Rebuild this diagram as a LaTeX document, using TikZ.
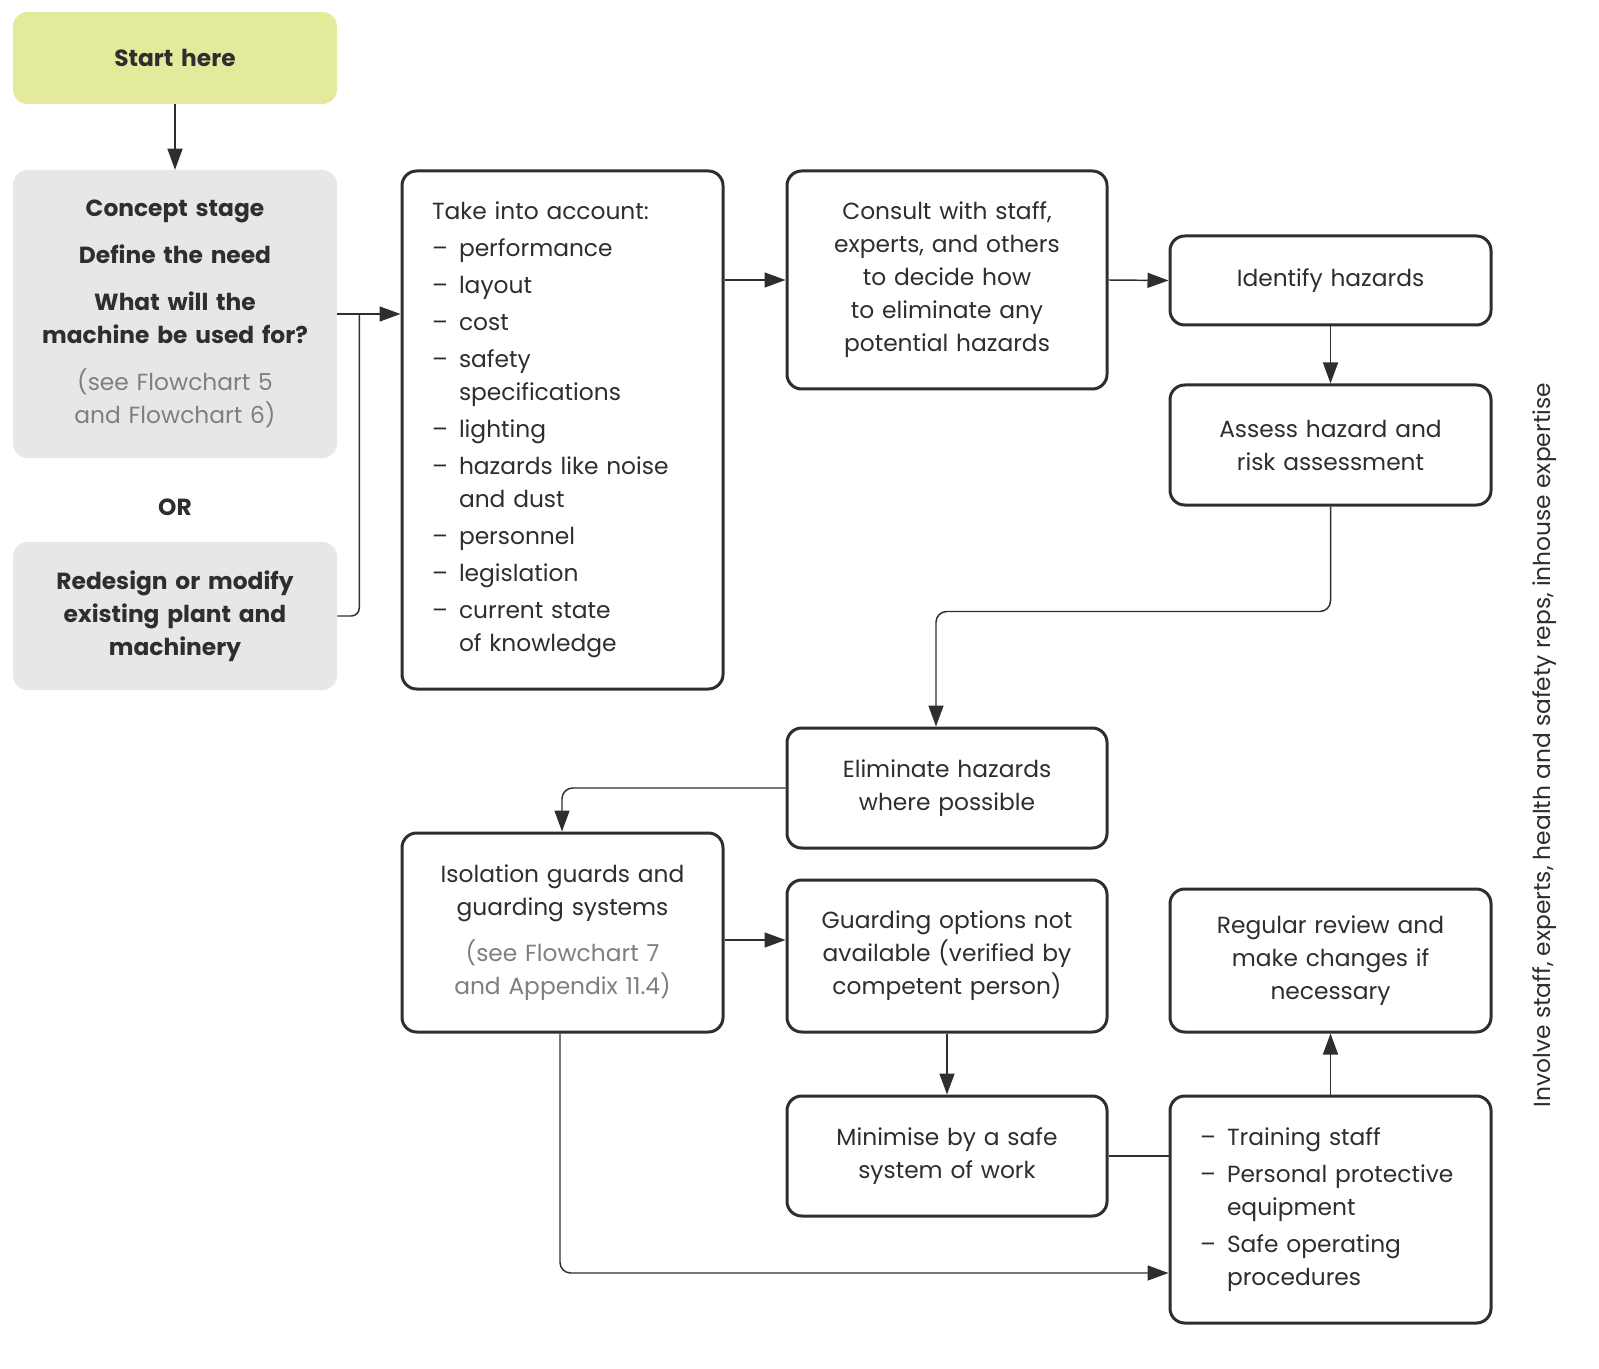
\documentclass[tikz,border=0pt]{standalone}
\usepackage{fontspec}
\setmainfont{Poppins}
\usetikzlibrary{arrows.meta,calc}
\definecolor{ink}{HTML}{2E2E2E}
\definecolor{greenbox}{HTML}{E4EA9C}
\definecolor{greybox}{HTML}{E7E7E9}
\definecolor{greytxt}{HTML}{7F7F7F}
\newcommand{\bodyfont}{\fontsize{17.5}{24.75}\selectfont\parindent=0pt\relax}
\newcommand{\itm}[1]{\makebox[20.25pt][l]{–}#1}
\newcommand{\cnt}[1]{\hspace*{20.25pt}#1}
\tikzset{
  box/.style={draw=ink, line width=2.25pt, rounded corners=11pt, fill=white,
    text=ink, align=center, inner sep=0pt, font=\bodyfont},
  softbox/.style={fill=#1, rounded corners=11pt, text=ink, align=center,
    inner sep=0pt, font=\bodyfont\bfseries},
  listbox/.style={box, align=left, inner xsep=22.5pt},
  lbl/.style={text=ink, inner sep=0pt, font=\bodyfont},
  conn/.style={draw=ink, line width=1.1pt},
  arr/.style={conn, -{Triangle[length=15.75pt,width=11.25pt]}},
}
\begin{document}
\begin{tikzpicture}[x=0.75pt,y=-0.75pt]
\useasboundingbox (0,0) rectangle (1599,1369);

% left column
\node[softbox=greenbox, minimum width=243pt, minimum height=69pt, text width=230pt] (start) at (175,58) {Start here};
\node[softbox=greybox, minimum width=243pt, minimum height=216pt, text width=230pt] (concept) at (175,314)
  {Concept stage\\[10.5pt]
   Define the need\\[10pt]
   What will the\\machine be used for?\\[10.5pt]
   \textcolor{greytxt}{\mdseries (see Flowchart 5}\\
   \textcolor{greytxt}{\mdseries and Flowchart 6)}};
\node[lbl, font=\bodyfont\bfseries] (or) at (175,507) {OR};
\node[softbox=greybox, minimum width=243pt, minimum height=111pt, text width=230pt] (redesign) at (175,616)
  {Redesign or modify\\existing plant and\\machinery};

% take into account
\node[listbox, minimum width=240.75pt, minimum height=388.5pt, text width=195.75pt] (take) at (562.5,430)
  {Take into account:\\[3pt]
   \itm{performance}\\[3pt]
   \itm{layout}\\[3pt]
   \itm{cost}\\[3pt]
   \itm{safety}\\
   \cnt{specifications}\\[3pt]
   \itm{lighting}\\[3pt]
   \itm{hazards like noise}\\
   \cnt{and dust}\\[3pt]
   \itm{personnel}\\[3pt]
   \itm{legislation}\\[3pt]
   \itm{current state}\\
   \cnt{of knowledge}};

\node[box, minimum width=240pt, minimum height=163.5pt, text width=225pt] (consult) at (947,280)
  {Consult with staff,\\experts, and others\\to decide how\\to eliminate any\\potential hazards};
\node[box, minimum width=240.75pt, minimum height=66.75pt, text width=225pt] (identify) at (1330.5,280.5)
  {Identify hazards};
\node[box, minimum width=240.75pt, minimum height=90pt, text width=225pt] (assess) at (1330.5,445)
  {Assess hazard and\\risk assessment};
\node[box, minimum width=240pt, minimum height=90pt, text width=225pt] (eliminate) at (947,788)
  {Eliminate hazards\\where possible};
\node[box, minimum width=240.75pt, minimum height=149.25pt, text width=225pt] (isolation) at (562.5,932.5)
  {Isolation guards and\\guarding systems\\[10pt]
   \textcolor{greytxt}{(see Flowchart 7}\\
   \textcolor{greytxt}{and Appendix 11.4)}};
\node[box, minimum width=240pt, minimum height=114pt, text width=225pt] (guarding) at (947,956)
  {Guarding options not\\available (verified by\\competent person)};
\node[box, minimum width=240.75pt, minimum height=107.25pt, text width=225pt] (review) at (1330.5,960.5)
  {Regular review and\\make changes if\\necessary};
\node[box, minimum width=240pt, minimum height=90pt, text width=225pt] (minimise) at (947,1156)
  {Minimise by a safe\\system of work};
\node[listbox, minimum width=240.75pt, minimum height=170.25pt, text width=195.75pt] (training) at (1330.5,1209.5)
  {\itm{Training staff}\\[3pt]
   \itm{Personal protective}\\
   \cnt{equipment}\\[3pt]
   \itm{Safe operating}\\
   \cnt{procedures}};

\node[lbl, rotate=90] (involve) at (1545,745)
  {Involve staff, experts, health and safety reps, inhouse expertise};

% connectors
\coordinate (join) at ($(concept.east)+(22,0)$);
\coordinate (elimtop) at ($(eliminate.north)+(-11,0)$);
\coordinate (isotop) at ($(isolation.north)+(-0.5,0)$);
\coordinate (isoright) at ($(isolation.east)+(0,7.5)$);
\coordinate (isobot) at ($(isolation.south)+(-2.5,0)$);
\coordinate (trainlow) at ($(training.west)+(0,63.5)$);

\draw[arr] (start) -- (concept);
\draw[arr] (concept.east) -- (concept.east -| take.west);
\draw[conn, rounded corners=6pt] (redesign.east) -| (join);
\draw[arr] (take.east |- consult.west) -- (consult.west);
\draw[arr] (consult.east) -- (identify.west);
\draw[arr] (identify.south) -- (assess.north);
\draw[arr, rounded corners=8pt] (assess.south) -- ++(0,105) -| (elimtop);
\draw[arr, rounded corners=8pt] (eliminate.west) -| (isotop);
\draw[arr] (isoright) -- (isoright -| guarding.west);
\draw[arr] (guarding.south) -- (minimise.north);
\draw[conn] (minimise.east) -- (minimise.east -| training.west);
\draw[arr, rounded corners=8pt] (isobot) |- (trainlow);
\draw[arr] (training.north) -- (review.south);
\end{tikzpicture}
\end{document}
